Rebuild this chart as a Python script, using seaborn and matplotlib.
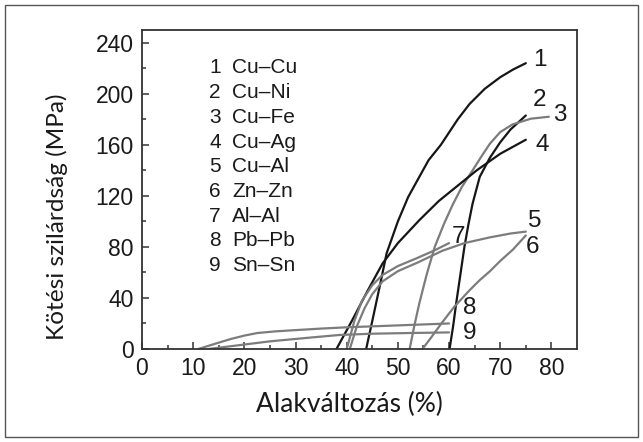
import matplotlib
matplotlib.use("Agg")
import matplotlib.pyplot as plt
import seaborn as sns
import pandas as pd
from matplotlib.patches import Rectangle

# curve data: deformation (%) vs bond strength (MPa)
names = ["Cu–Cu", "Cu–Ni", "Cu–Fe", "Cu–Ag", "Cu–Al", "Zn–Zn", "Al–Al", "Pb–Pb", "Sn–Sn"]

x1 = [43.8, 45, 46.5, 47.8, 50, 52, 54.2, 56, 58.4, 61.7, 64, 67, 70, 72.5, 75]
y1 = [0, 22, 50, 75, 100, 119, 135, 148, 160, 180, 192, 204, 213, 219, 224]
x2 = [60.1, 60.8, 61.4, 62.2, 63, 63.8, 64.6, 66, 68, 70, 72, 75]
y2 = [0, 18, 36, 58, 80, 98, 114, 135, 150, 162, 172, 183]
x3 = [52.3, 53.2, 54.2, 55.6, 57.2, 59, 60.7, 62.5, 64.6, 66.5, 68, 70, 72.4, 76, 79.5]
y3 = [0, 18, 36, 58, 80, 98, 113, 127, 140, 152, 161, 170, 176, 180.5, 182]
x4 = [38, 41, 44, 47, 50, 54.2, 58, 62, 65.4, 70, 75]
y4 = [0, 22, 45, 67, 83, 101, 116, 129, 140, 153, 164]
x5 = [40.6, 42, 43.5, 45, 47, 50, 54, 58.7, 63, 68, 72, 75]
y5 = [0, 18, 32, 43, 53, 61, 68, 77, 83, 87.5, 90.5, 92]
x6 = [54.8, 56.5, 58.5, 61, 64, 66, 68, 70, 72.5, 75]
y6 = [0, 9, 20, 33, 46, 54, 61, 69, 78, 89]
x7 = [40, 41.5, 43, 45, 47, 50, 53.6, 57, 60]
y7 = [0, 22, 38, 50, 58, 65, 71, 77, 83]
x8 = [11, 13, 15, 17.5, 20, 22.5, 26, 30, 35, 40, 50, 60]
y8 = [0, 2.5, 5, 8, 10.5, 12.5, 13.8, 14.8, 16, 17, 18.5, 20]
x9 = [13, 15, 18, 22, 25, 29, 33, 38.6, 45, 52, 60]
y9 = [0, 1, 2.5, 4.5, 6, 7.5, 9, 11, 12, 12.5, 13]

xs = [x1, x2, x3, x4, x5, x6, x7, x8, x9]
ys = [y1, y2, y3, y4, y5, y6, y7, y8, y9]

# where the curve numbers sit
num_x = [77.7, 77.7, 81.6, 78.2, 76.8, 76.4, 61.8, 64.0, 64.0]
num_y = [226.5, 195, 183.5, 160, 100, 80, 87.5, 32, 12.5]

black, grey = "#161616", "#7c7c7c"
colors = [black, black, grey, black, grey, grey, grey, grey, grey]

rows = []
for i, (xx, yy) in enumerate(zip(xs, ys)):
    for a, b in zip(xx, yy):
        rows.append({"curve": str(i + 1), "x": a, "y": b})
df = pd.DataFrame(rows)

sns.set_theme(style="ticks")
plt.rcParams["font.family"] = ["Liberation Sans", "DejaVu Sans"]

fig = plt.figure(figsize=(6.43, 4.42), dpi=100)
ax = fig.add_axes([142 / 643, 93 / 442, 435 / 643, 319 / 442])

sns.lineplot(data=df, x="x", y="y", hue="curve", sort=False, estimator=None,
             palette={str(i + 1): c for i, c in enumerate(colors)},
             linewidth=1.6, legend=False, ax=ax)

ax.set_xlim(0, 85)
ax.set_ylim(0, 250)
ax.set_xticks(range(0, 81, 10))
ax.set_xticks(range(5, 85, 10), minor=True)
ax.set_yticks(range(0, 241, 40))
ax.set_yticks(range(20, 250, 40), minor=True)
ax.tick_params(which="both", direction="in", color="#333333", width=1.1)
ax.tick_params(which="major", length=5, labelsize=16.5, pad=6, labelcolor="#1a1a1a")
ax.tick_params(which="minor", length=3)
for s in ax.spines.values():
    s.set_visible(True)
    s.set_color("#333333")
    s.set_linewidth(1.3)

ax.set_xlabel("Alakváltozás (%)", family="Lato", fontsize=19, va="center", color="#1a1a1a")
ax.xaxis.set_label_coords(0.478, -0.175)
ax.set_ylabel("Kötési szilárdság (MPa)", family="Lato", fontsize=17.6, va="center", color="#1a1a1a")
ax.yaxis.set_label_coords(-0.195, 0.414)

# list of pairings in the upper left
for i, n in enumerate(names):
    yy = 0.881 - i * 0.0774
    ax.text(0.1816, yy, str(i + 1), transform=ax.transAxes, ha="right", va="center",
            fontsize=15, color="#1a1a1a")
    ax.text(0.207, yy, n, transform=ax.transAxes, ha="left", va="center",
            fontsize=15, color="#1a1a1a")

for i, (a, b) in enumerate(zip(num_x, num_y)):
    ax.text(a, b, str(i + 1), ha="center", va="center", fontsize=17.5, color="#1a1a1a")

# outer frame around the whole picture
fig.patches.append(Rectangle((5 / 643, 5 / 442), 633 / 643, 432 / 442, transform=fig.transFigure,
                             fill=False, edgecolor="#555555", linewidth=1.0))

fig.savefig("out.png", dpi=100)
